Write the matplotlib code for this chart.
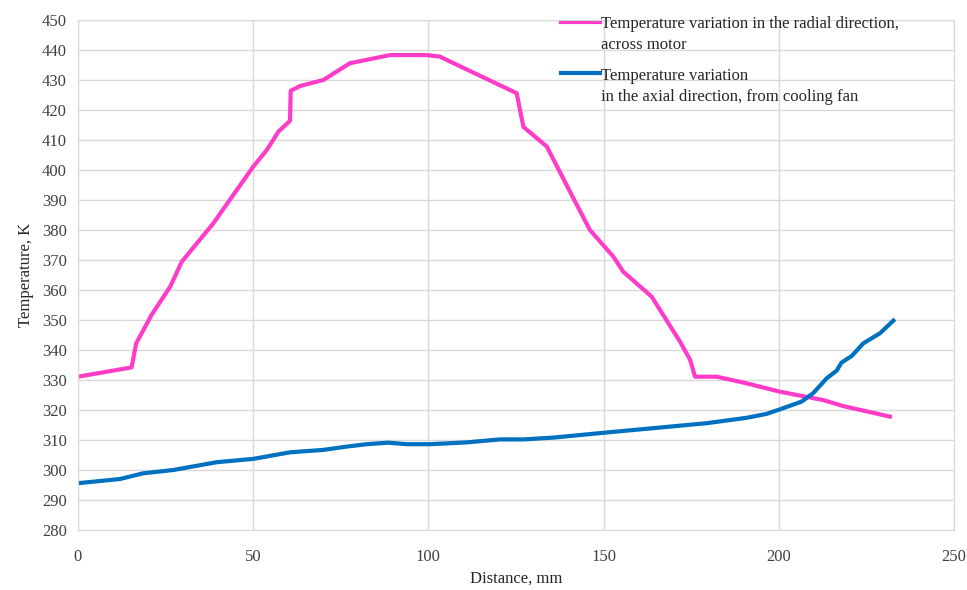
import matplotlib
matplotlib.use("Agg")
import matplotlib.pyplot as plt

plt.rcParams['font.family'] = ['Liberation Serif', 'DejaVu Serif']

# radial direction, across motor
radial_x = [0, 15.3, 16.6, 21, 26.3, 29.6, 38.6, 50, 53.9, 57.2, 60.5, 60.7,
            63.4, 70, 77.6, 89, 99.5, 103.3, 105.2, 125.2, 127.1, 133.8, 140.4,
            146.1, 152.8, 155.6, 163.7, 171.8, 174.7, 176.1, 182.3, 190.8,
            200.3, 212.7, 218.4, 231.7]
radial_t = [331.1, 334.2, 342.2, 351.7, 361.1, 369.4, 382.2, 401.1, 406.7,
            412.8, 416.4, 426.4, 428, 430, 435.6, 438.3, 438.3, 437.8, 436.7,
            425.6, 414.4, 407.8, 392.8, 380, 371.1, 366.1, 357.8, 342.8, 336.7,
            331.1, 331.1, 328.9, 326.1, 323.3, 321.3, 317.8]

# axial direction, from cooling fan
axial_x = [0, 12, 18.6, 27.2, 39.6, 50, 54.8, 60.5, 70, 76.7, 82.4, 88.6,
           93.8, 100.5, 110.9, 120.4, 127.1, 135.7, 149.9, 179.4, 190.8, 196.5,
           200.3, 206.5, 209.8, 213.7, 216.5, 217.9, 220.8, 224.1, 228.9, 232.7]
axial_t = [295.6, 297, 298.9, 300, 302.6, 303.7, 304.7, 305.9, 306.7, 307.8,
           308.6, 309.1, 308.6, 308.6, 309.2, 310.2, 310.2, 310.8, 312.4, 315.6,
           317.4, 318.7, 320.2, 322.8, 325.6, 330.6, 333.1, 335.8, 338, 342.2,
           345.6, 349.8]

labels = ["Temperature variation in the radial direction,\nacross motor",
          "Temperature variation\nin the axial direction, from cooling fan"]
colors = ["#FF3CC8", "#0070C0"]

fig = plt.figure(figsize=(9.67, 5.9), dpi=100)
ax = fig.add_axes([78/967, 60/590, 876/967, 510/590])

ax.plot(radial_x, radial_t, color=colors[0], lw=3, solid_joinstyle='round')
ax.plot(axial_x, axial_t, color=colors[1], lw=3, solid_joinstyle='round')

ax.set_xlim(0, 250)
ax.set_ylim(280, 450)
ax.set_xticks(range(0, 251, 50))
ax.set_yticks(range(280, 451, 10))
ax.grid(True, color="#D9D9D9", lw=1)
ax.set_axisbelow(True)
for s in ax.spines.values():
    s.set_color("#D9D9D9")
ax.tick_params(length=0, labelsize=12, colors="#404040", pad=8)
ax.tick_params(axis='x', pad=14)
ax.set_xlabel("Distance, mm", fontsize=12, color="#262626", labelpad=4)
ax.set_ylabel("Temperature, K", fontsize=12, color="#262626", labelpad=6)

# legend (drawn by hand so the handle sits on the first text line)
for i, (lab, c) in enumerate(zip(labels, colors)):
    y = 0.9967 - i * 0.1012
    ax.plot([0.551, 0.596], [y, y], color=c, lw=3, transform=ax.transAxes,
            clip_on=False)
    ax.text(0.597, y + 0.011, lab, transform=ax.transAxes, fontsize=12,
            color="#262626", va='top', ha='left', linespacing=1.45)

fig.savefig("out.png", dpi=100)
